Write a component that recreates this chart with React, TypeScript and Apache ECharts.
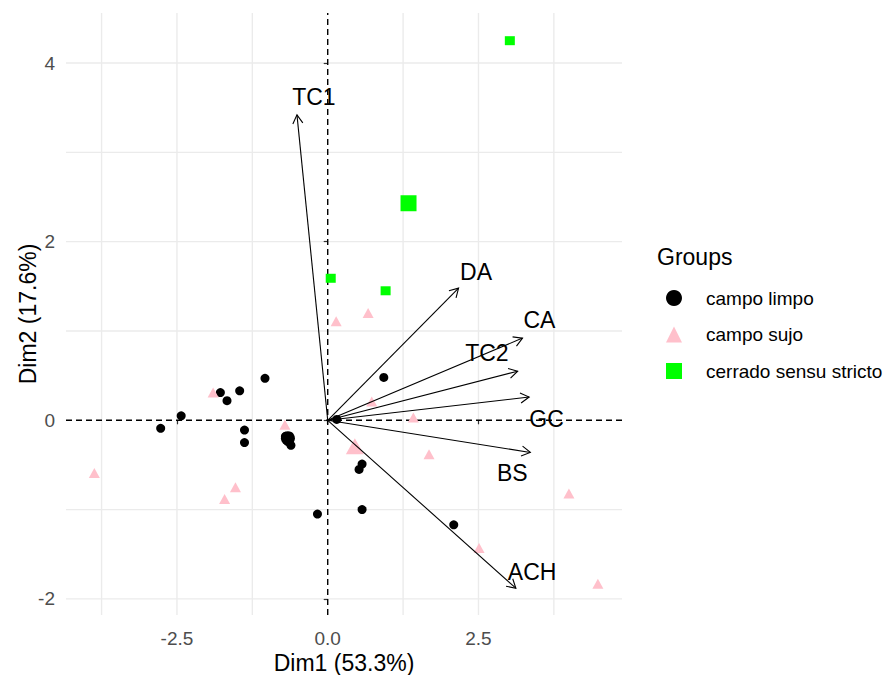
import React, { useEffect, useRef } from "react";
import * as echarts from "echarts";

// ---------- data ----------
const campoLimpo: [number, number][] = [
  [-2.77, -0.09], [-2.43, 0.05], [-1.78, 0.31], [-1.67, 0.22], [-1.46, 0.33],
  [-1.04, 0.47], [-1.38, -0.11], [-1.38, -0.25], [-0.7, -0.18], [-0.66, -0.24],
  [-0.61, -0.28], [-0.17, -1.05], [0.15, 0.01], [0.93, 0.48], [0.52, -0.55],
  [0.57, -0.49], [0.57, -1.0], [2.09, -1.17],
];
const campoSujo: [number, number][] = [
  [-3.87, -0.59], [-1.9, 0.31], [-1.53, -0.75], [-1.71, -0.88], [-0.71, -0.05],
  [0.14, 1.11], [0.67, 1.2], [0.73, 0.21], [1.42, 0.03], [1.68, -0.38],
  [4.0, -0.82], [2.51, -1.43], [4.48, -1.83],
];
const cerrado: [number, number][] = [
  [3.02, 4.25], [0.05, 1.59], [0.96, 1.45],
];
const meanLimpo: [number, number][] = [[-0.66, -0.2]];
const meanSujo: [number, number][] = [[0.45, -0.29]];
const meanCerrado: [number, number][] = [[1.34, 2.43]];

const variables = ["TC1", "DA", "CA", "TC2", "GC", "BS", "ACH"];
const loadingX = [-0.51, 2.17, 3.23, 3.15, 3.34, 3.36, 3.12];
const loadingY = [3.42, 1.48, 0.92, 0.55, 0.26, -0.36, -1.88];
const labelX = [-0.23, 2.46, 3.51, 2.64, 3.63, 3.06, 3.39];
const labelY = [3.62, 1.66, 1.12, 0.75, 0.01, -0.59, -1.7];

const groups = ["campo limpo", "campo sujo", "cerrado sensu stricto"];
const xTicks = [-2.5, 0, 2.5];
const xTickLabels = ["-2.5", "0.0", "2.5"];
const yTicks = [-2, 0, 2, 4];
const yTickLabels = ["-2", "0", "2", "4"];
const xGrid = [-3.75, -2.5, -1.25, 1.25, 2.5, 3.75];
const yGrid = [-2, -1, 1, 2, 3, 4];
const X_MIN = -4.34, X_MAX = 4.88, Y_MIN = -2.18, Y_MAX = 4.56;

const FONT = "'Liberation Sans', Arial, sans-serif";

export default function App() {
  const ref = useRef<HTMLDivElement>(null);
  useEffect(() => {
    if (!ref.current) return;
    const chart = echarts.init(ref.current, null, { renderer: "svg" });
    const option: any = {
      animation: false,
      backgroundColor: "#fff",
      textStyle: { fontFamily: FONT },
      grid: { left: 66, top: 13, right: 266, bottom: 60, containLabel: false, outerBoundsMode: "none" },
      title: {
        text: "Groups",
        left: 657,
        top: 245,
        padding: 0,
        textStyle: { fontSize: 23, fontWeight: "normal", color: "#000", fontFamily: FONT },
      },
      legend: {
        orient: "vertical",
        left: 666,
        top: 288,
        padding: 0,
        itemWidth: 16,
        itemHeight: 16,
        itemGap: 16.5,
        data: [
          { name: groups[0], icon: "circle" },
          { name: groups[1], icon: "triangle" },
          { name: groups[2], icon: "rect" },
        ],
        textStyle: { fontSize: 19, color: "#000", lineHeight: 20, padding: [0, 0, 0, 19], fontFamily: FONT },
      },
      xAxis: {
        type: "value",
        min: X_MIN,
        max: X_MAX,
        name: "Dim1 (53.3%)",
        nameLocation: "middle",
        nameGap: 36,
        nameMoveOverlap: false,
        nameTextStyle: { fontSize: 23, lineHeight: 23, color: "#000", fontFamily: FONT },
        axisLine: { show: false },
        splitLine: { show: false },
        axisTick: { show: true, customValues: xTicks, length: 4, lineStyle: { color: "#333", width: 1.2 } },
        axisLabel: {
          customValues: xTicks,
          margin: 14,
          fontSize: 19,
          color: "#4D4D4D",
          fontFamily: FONT,
          formatter: (v: number) => xTickLabels[xTicks.indexOf(v)] ?? String(v),
        },
      },
      yAxis: {
        type: "value",
        min: Y_MIN,
        max: Y_MAX,
        name: "Dim2 (17.6%)",
        nameLocation: "middle",
        nameGap: 27,
        nameMoveOverlap: false,
        nameRotate: 90,
        nameTextStyle: { fontSize: 23, lineHeight: 23, color: "#000", fontFamily: FONT },
        axisLine: { show: false },
        splitLine: { show: false },
        axisTick: { show: true, customValues: yTicks, length: 4, lineStyle: { color: "#333", width: 1.2 } },
        axisLabel: {
          customValues: yTicks,
          margin: 11,
          fontSize: 19,
          color: "#4D4D4D",
          fontFamily: FONT,
          formatter: (v: number) => yTickLabels[yTicks.indexOf(v)] ?? String(v),
        },
      },
      series: [
        {
          type: "custom",
          name: "xgrid",
          silent: true,
          z: 0,
          data: xGrid.map((v) => [v, 0]),
          renderItem: (params: any, api: any) => {
            const a = api.coord([api.value(0), Y_MIN]);
            const b = api.coord([api.value(0), Y_MAX]);
            return { type: "line", shape: { x1: a[0], y1: a[1], x2: b[0], y2: b[1] }, style: { stroke: "#EBEBEB", lineWidth: 1.4 } };
          },
        },
        {
          type: "custom",
          name: "ygrid",
          silent: true,
          z: 0,
          data: yGrid.map((v) => [0, v]),
          renderItem: (params: any, api: any) => {
            const a = api.coord([X_MIN, api.value(1)]);
            const b = api.coord([X_MAX, api.value(1)]);
            return { type: "line", shape: { x1: a[0], y1: a[1], x2: b[0], y2: b[1] }, style: { stroke: "#EBEBEB", lineWidth: 1.4 } };
          },
        },
        {
          type: "custom",
          name: "zero",
          silent: true,
          z: 1,
          data: [[0, 0]],
          renderItem: (params: any, api: any) => {
            const a = api.coord([0, Y_MIN]);
            const b = api.coord([0, Y_MAX]);
            const c = api.coord([X_MIN, 0]);
            const d = api.coord([X_MAX, 0]);
            const st = { stroke: "#000", lineWidth: 1.4, lineDash: [6, 4] };
            return {
              type: "group",
              children: [
                { type: "line", shape: { x1: a[0], y1: a[1], x2: b[0], y2: b[1] }, style: st },
                { type: "line", shape: { x1: c[0], y1: c[1], x2: d[0], y2: d[1] }, style: st },
              ],
            };
          },
        },
        { type: "scatter", name: groups[0], z: 2, symbol: "circle", symbolSize: 9, itemStyle: { color: "#000", opacity: 1 }, data: campoLimpo },
        { type: "scatter", name: groups[1], z: 2, symbol: "triangle", symbolSize: [11, 10], itemStyle: { color: "#FFC0CB", opacity: 1 }, data: campoSujo },
        { type: "scatter", name: groups[2], z: 2, symbol: "rect", symbolSize: [10, 9], itemStyle: { color: "#00FF00", opacity: 1 }, data: cerrado },
        { type: "scatter", name: groups[0], z: 2, symbol: "circle", symbolSize: 14, itemStyle: { color: "#000", opacity: 1 }, data: meanLimpo },
        { type: "scatter", name: groups[1], z: 2, symbol: "triangle", symbolSize: [18, 16], itemStyle: { color: "#FFC0CB", opacity: 1 }, data: meanSujo },
        { type: "scatter", name: groups[2], z: 2, symbol: "rect", symbolSize: 16, itemStyle: { color: "#00FF00", opacity: 1 }, data: meanCerrado },
        {
          type: "custom",
          name: "variables",
          silent: true,
          z: 3,
          data: variables.map((_, i) => [loadingX[i], loadingY[i], labelX[i], labelY[i]]),
          encode: { x: 0, y: 1 },
          renderItem: (params: any, api: any) => {
            const o = api.coord([0, 0]);
            const t = api.coord([api.value(0), api.value(1)]);
            const l = api.coord([api.value(2), api.value(3)]);
            const ang = Math.atan2(t[1] - o[1], t[0] - o[0]);
            const hl = 10, ha = Math.PI / 6;
            const p1 = [t[0] - hl * Math.cos(ang - ha), t[1] - hl * Math.sin(ang - ha)];
            const p2 = [t[0] - hl * Math.cos(ang + ha), t[1] - hl * Math.sin(ang + ha)];
            return {
              type: "group",
              children: [
                { type: "line", shape: { x1: o[0], y1: o[1], x2: t[0], y2: t[1] }, style: { stroke: "#000", lineWidth: 1.1 } },
                { type: "polyline", shape: { points: [p1, t, p2] }, style: { stroke: "#000", fill: "none", lineWidth: 1.1 } },
                {
                  type: "text",
                  x: l[0],
                  y: l[1],
                  style: { text: variables[params.dataIndex], fontSize: 23, fill: "#000", align: "center", verticalAlign: "middle", fontFamily: FONT },
                },
              ],
            };
          },
        },
      ],
    };
    chart.setOption(option);
    return () => chart.dispose();
  }, []);
  return <div ref={ref} style={{ position: "fixed", left: 0, top: 0, width: 888, height: 675, background: "#fff" }} />;
}
